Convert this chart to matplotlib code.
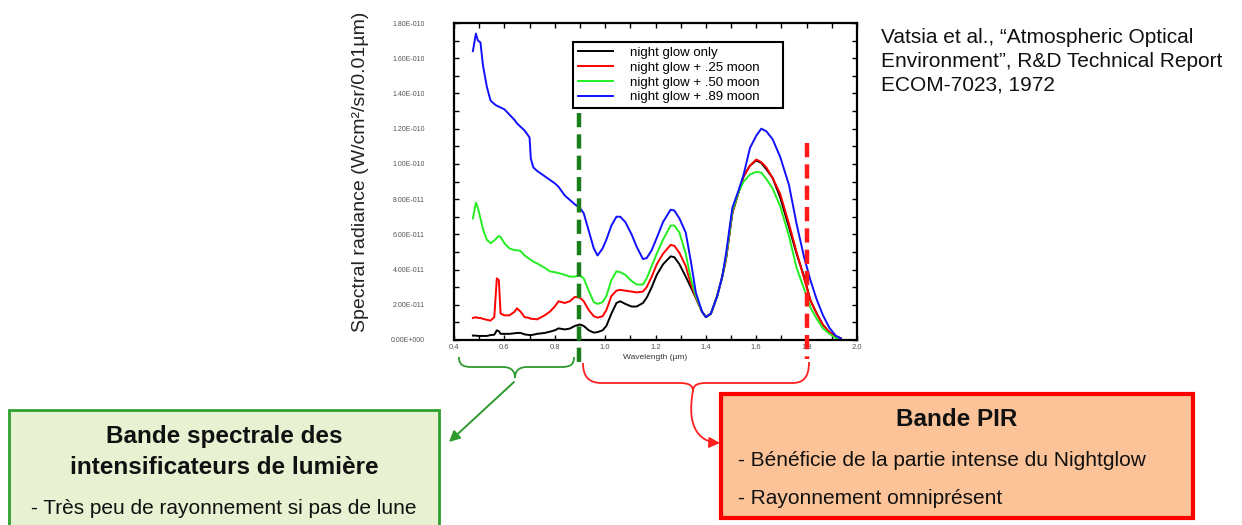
import numpy as np
import matplotlib
matplotlib.use("Agg")
import matplotlib.pyplot as plt
from matplotlib.path import Path
from matplotlib.patches import PathPatch, FancyArrowPatch, Rectangle
from matplotlib.ticker import MultipleLocator, FuncFormatter
from matplotlib.transforms import blended_transform_factory

plt.rcParams["font.family"] = ["Liberation Sans", "DejaVu Sans"]

# wavelength (um) and spectral radiance in units of 1e-11 W/cm2/sr/0.01um
wavelength = [0.475, 0.487, 0.495, 0.505, 0.515, 0.530, 0.545, 0.560, 0.570, 0.578,
              0.585, 0.600, 0.620, 0.640, 0.650, 0.665, 0.680, 0.700, 0.705, 0.715,
              0.730, 0.760, 0.780, 0.800, 0.815, 0.840, 0.860, 0.880, 0.900, 0.915,
              0.935, 0.955, 0.970, 0.990, 1.005, 1.025, 1.045, 1.060, 1.080, 1.105,
              1.125, 1.150, 1.165, 1.185, 1.205, 1.230, 1.260, 1.275, 1.295, 1.320,
              1.340, 1.360, 1.385, 1.400, 1.420, 1.445, 1.465, 1.480, 1.505, 1.530,
              1.550, 1.575, 1.600, 1.620, 1.640, 1.665, 1.695, 1.730, 1.760, 1.790,
              1.815, 1.840, 1.865, 1.890, 1.915, 1.935]
night_glow = [0.25, 0.25, 0.23, 0.23, 0.23, 0.23, 0.28, 0.30, 0.55, 0.50,
              0.35, 0.35, 0.35, 0.38, 0.40, 0.40, 0.32, 0.28, 0.28, 0.30,
              0.35, 0.40, 0.47, 0.55, 0.66, 0.60, 0.65, 0.80, 0.88, 0.80,
              0.55, 0.42, 0.45, 0.55, 0.80, 1.50, 2.10, 2.20, 2.05, 1.90,
              1.90, 2.10, 2.40, 3.00, 3.70, 4.30, 4.75, 4.70, 4.30, 3.60,
              3.00, 2.40, 1.60, 1.30, 1.50, 2.50, 3.60, 4.60, 7.20, 8.40,
              9.30, 9.90, 10.20, 10.05, 9.70, 9.20, 8.10, 6.40, 4.90, 3.60,
              2.25, 1.50, 0.85, 0.45, 0.20, 0.10]
moon_25 = [1.25, 1.30, 1.25, 1.25, 1.20, 1.15, 1.10, 1.30, 3.50, 3.40,
           1.50, 1.40, 1.40, 1.60, 1.80, 1.60, 1.30, 1.25, 1.20, 1.20,
           1.17, 1.40, 1.60, 1.90, 2.20, 2.10, 2.20, 2.45, 2.40, 2.20,
           1.70, 1.35, 1.27, 1.35, 1.70, 2.50, 2.80, 2.85, 2.80, 2.75,
           2.70, 2.75, 3.00, 3.60, 4.30, 4.90, 5.40, 5.35, 4.95, 4.20,
           3.20, 2.40, 1.60, 1.30, 1.50, 2.50, 3.60, 4.60, 7.20, 8.40,
           9.30, 9.90, 10.25, 10.10, 9.80, 9.20, 8.30, 6.60, 5.00, 3.50,
           2.25, 1.50, 0.85, 0.45, 0.20, 0.10]
moon_50 = [6.90, 7.80, 7.50, 6.90, 6.30, 5.70, 5.50, 5.65, 5.80, 5.90,
           5.85, 5.50, 5.20, 5.10, 5.10, 5.05, 4.80, 4.60, 4.55, 4.45,
           4.35, 4.10, 3.90, 3.85, 3.80, 3.70, 3.60, 3.60, 3.65, 3.50,
           2.80, 2.15, 2.05, 2.15, 2.50, 3.40, 3.90, 3.85, 3.70, 3.35,
           3.15, 3.15, 3.50, 4.20, 4.90, 5.70, 6.50, 6.50, 6.10, 4.90,
           3.50, 2.50, 1.60, 1.30, 1.50, 2.50, 3.60, 4.70, 7.30, 8.40,
           9.00, 9.40, 9.55, 9.50, 9.15, 8.60, 7.60, 5.90, 4.10, 2.90,
           1.85, 1.20, 0.66, 0.35, 0.12, 0.05]
moon_89 = [16.4, 17.4, 17.0, 16.9, 15.6, 14.4, 13.6, 13.4, 13.3, 13.25,
           13.2, 13.1, 12.8, 12.5, 12.3, 12.1, 11.9, 11.5, 10.3, 9.8,
           9.6, 9.3, 9.1, 8.9, 8.7, 8.2, 7.95, 7.7, 7.5, 7.2,
           6.2, 5.2, 4.8, 5.2, 5.7, 6.5, 7.0, 7.0, 6.7, 6.0,
           5.3, 4.6, 4.65, 5.1, 5.8, 6.7, 7.4, 7.35, 6.9, 6.1,
           4.5, 2.7, 1.6, 1.3, 1.5, 2.5, 3.6, 4.9, 7.5, 8.5,
           9.4, 10.9, 11.6, 12.0, 11.85, 11.4, 10.4, 8.8, 6.6, 4.7,
           3.4, 2.3, 1.4, 0.7, 0.25, 0.1]

series = [night_glow, moon_25, moon_50, moon_89]
labels = ["night glow only", "night glow + .25 moon",
          "night glow + .50 moon", "night glow + .89 moon"]
colors = ["#000000", "#ff0000", "#22ee22", "#1010ff"]

ii_edge = 0.895   # end of image-intensifier band (um)
pir_edge = 1.80   # end of PIR band (um)

W, H = 1242, 525
fig = plt.figure(figsize=(W / 100, H / 100), dpi=100)
fig.patch.set_facecolor("white")

ax = fig.add_axes([454 / W, 1 - 340 / H, 403 / W, 317 / H])
for vals, lab, col in zip(series, labels, colors):
    ax.plot(wavelength, np.array(vals) * 1e-11, color=col, lw=1.4, label=lab)

ax.set_xlim(0.4, 2.0)
ax.set_ylim(0, 1.8e-10)
ax.xaxis.set_major_locator(MultipleLocator(0.2))
ax.xaxis.set_minor_locator(MultipleLocator(0.1))
ax.yaxis.set_major_locator(MultipleLocator(2e-11))
ax.yaxis.set_minor_locator(MultipleLocator(1e-11))


def sci(v, pos):
    if abs(v) < 1e-15:
        return "0.00E+000"
    e = int(np.floor(np.log10(abs(v)) + 1e-9))
    m = v / 10 ** e
    return f"{m:.2f}E{'-' if e < 0 else '+'}{abs(e):03d}"


ax.yaxis.set_major_formatter(FuncFormatter(sci))
ax.xaxis.set_major_formatter(FuncFormatter(lambda v, p: f"{v:.1f}"))
ax.tick_params(which="both", direction="in", top=True, right=True,
               length=3.5, width=1.0)
ax.tick_params(axis="y", labelsize=5, labelcolor="#555555", pad=21)
ax.tick_params(axis="x", labelsize=5.5, labelcolor="#555555", pad=3)
for s in ax.spines.values():
    s.set_linewidth(1.6)

ax.set_xlabel("Wavelength (µm)", fontsize=6, color="#333333", labelpad=2)
ax.set_ylabel("Spectral radiance (W/cm²/sr/0.01µm)", fontsize=14, color="#222222")
ax.yaxis.set_label_coords(-0.21, 0.53)

leg = ax.legend(loc="upper left", bbox_to_anchor=(0.295, 0.726, 0.521, 0.214),
                mode="expand", borderaxespad=0,
                fontsize=9.5, handlelength=2.7, handletextpad=1.3, labelspacing=0.2,
                borderpad=0.35, fancybox=False, framealpha=1, edgecolor="black")
leg.get_frame().set_linewidth(1.5)

# overlay in pixel coordinates for annotations
ov = fig.add_axes([0, 0, 1, 1])
ov.set_xlim(0, W)
ov.set_ylim(H, 0)
ov.axis("off")
ov.patch.set_alpha(0)

tr = blended_transform_factory(ax.transData, ov.transData)
ov.plot([ii_edge, ii_edge], [113, 364], transform=tr, color="#1a7f1a", lw=3.2,
        dashes=(3.2, 1.6), clip_on=False)
ov.plot([pir_edge, pir_edge], [143, 359], transform=tr, color="#ff1a1a", lw=3.2,
        dashes=(3.2, 1.6), clip_on=False)

# braces
green_brace = Path([(459, 357), (459, 365), (463, 367), (472, 367),
                    (503, 367), (510, 367), (515, 370), (515, 378),
                    (515, 370), (520, 367), (527, 367),
                    (561, 367), (570, 367), (574, 365), (574, 357)],
                   [Path.MOVETO, Path.CURVE4, Path.CURVE4, Path.CURVE4,
                    Path.LINETO, Path.CURVE4, Path.CURVE4, Path.CURVE4,
                    Path.CURVE4, Path.CURVE4, Path.CURVE4,
                    Path.LINETO, Path.CURVE4, Path.CURVE4, Path.CURVE4])
red_brace = Path([(583, 363), (583, 378), (590, 383), (602, 383),
                  (680, 383), (688, 383), (693, 385), (693, 391),
                  (693, 385), (698, 383), (706, 383),
                  (792, 383), (803, 383), (809, 378), (809, 362)],
                 green_brace.codes)
ov.add_patch(PathPatch(green_brace, fc="none", ec="#2e9a2e", lw=1.3))
ov.add_patch(PathPatch(red_brace, fc="none", ec="#ff2020", lw=1.3))

ov.add_patch(FancyArrowPatch((514, 382), (449, 442), arrowstyle="-|>",
                             mutation_scale=16, color="#2e9a2e", lw=1.4,
                             shrinkA=0, shrinkB=0))
red_curve = Path([(693, 391), (686, 428), (700, 442), (720, 443)],
                 [Path.MOVETO, Path.CURVE4, Path.CURVE4, Path.CURVE4])
ov.add_patch(FancyArrowPatch(path=red_curve, arrowstyle="-|>", mutation_scale=16,
                             color="#ff2020", lw=1.3))

# boxes
ov.add_patch(Rectangle((9, 410), 430, 130, fc="#e8f1d2", ec="#2ea02e", lw=2,
                       clip_on=False))
ov.add_patch(Rectangle((721, 394), 472, 124, fc="#fbc397", ec="#ff0000", lw=3,
                       clip_on=False))

ov.text(224, 437, "Bande spectrale des", ha="center", va="center",
        fontsize=17.5, fontweight="bold", color="#111111")
ov.text(224, 467, "intensificateurs de lumière", ha="center", va="center",
        fontsize=17.5, fontweight="bold", color="#111111")
ov.text(224, 508, "- Très peu de rayonnement si pas de lune", ha="center",
        va="center", fontsize=15, color="#111111")

ov.text(957, 420, "Bande PIR", ha="center", va="center", fontsize=17.5,
        fontweight="bold", color="#111111")
ov.text(738, 460, "- Bénéficie de la partie intense du Nightglow", ha="left",
        va="center", fontsize=15, color="#111111")
ov.text(738, 498, "- Rayonnement omniprésent", ha="left", va="center",
        fontsize=15, color="#111111")

ov.text(881, 28, "Vatsia et al., “Atmospheric Optical\n"
        "Environment”, R&D Technical Report\nECOM-7023, 1972",
        ha="left", va="top", fontsize=15, linespacing=1.33, color="#111111")

fig.savefig("out.png", dpi=100)
